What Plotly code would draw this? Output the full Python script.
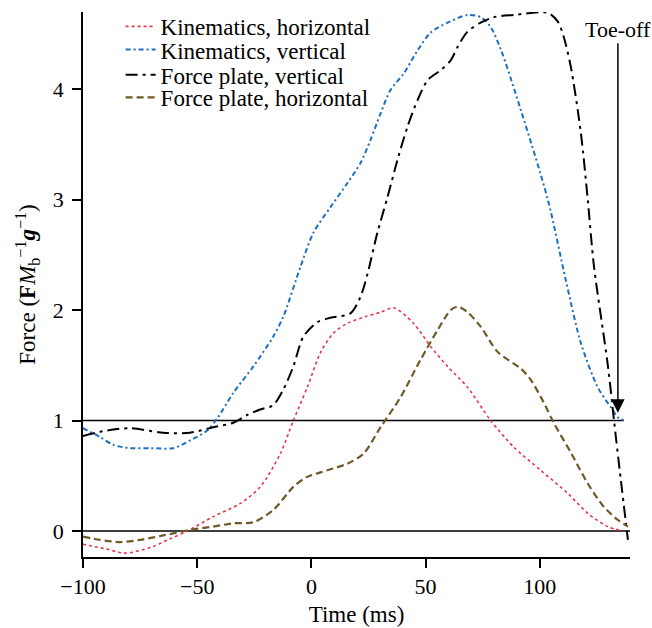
import plotly.graph_objects as go

SERIF = "Liberation Serif"
RED = "#e8364a"
BLUE = "#1f6fc0"
OLIVE = "#6e5a28"
BLACK = "#000000"

# Kinematics, horizontal
kin_h_t = [-100, -90.4, -81.6, -70.6, -61.8, -54.4, -43, -31.1, -22.4, -13.6, -7.9, -1.8,
           3.9, 9.6, 15.8, 23.7, 30.3, 36, 44.7, 52.2, 59.6, 68.4, 78.5, 88.6, 100.4,
           112.3, 121, 129.8, 136.4]
kin_h_f = [-0.12, -0.16, -0.20, -0.15, -0.07, 0.0, 0.13, 0.25, 0.40, 0.70, 1.0, 1.30,
           1.61, 1.79, 1.88, 1.94, 1.98, 2.02, 1.88, 1.67, 1.49, 1.30, 1.0, 0.76, 0.55,
           0.34, 0.16, 0.04, 0.0]

# Kinematics, vertical
kin_v_t = [-100, -92.5, -86.8, -79.4, -70.6, -60.5, -53.1, -45.6, -41.2, -34.2, -25.4,
           -16.7, -12.3, -4.8, 0.9, 8.3, 15.8, 21.5, 25.9, 30.3, 34.6, 40.4, 46.5, 52.2,
           59.6, 68.4, 74.1, 78.5, 82.9, 91.7, 103.5, 111.4, 118, 125.4, 131.1, 134.2, 136.8]
kin_v_f = [0.93, 0.85, 0.78, 0.75, 0.75, 0.75, 0.82, 0.91, 1.02, 1.25, 1.49,
           1.76, 1.94, 2.39, 2.70, 2.93, 3.15, 3.33, 3.54, 3.78, 3.99, 4.14, 4.35, 4.51,
           4.60, 4.67, 4.65, 4.56, 4.36, 3.81, 3.0, 2.27, 1.70, 1.30, 1.12, 1.03, 1.0]

# Force plate, vertical
fp_v_t = [-100, -89.5, -79.4, -64.9, -53.1, -43, -34.2, -28.1, -22.4, -16.7, -12.3, -7.9,
          -3.5, 2.6, 8.3, 17.1, 21.5, 24.6, 28.9, 33.3, 37.7, 42.1, 46.5, 50.9, 56.6, 61,
          64, 68.4, 74.1, 79.8, 88.6, 103.5, 107.9, 110.5, 113.6, 118, 121, 123.7, 129.8,
          132.5, 135.5, 138.6]
fp_v_f = [0.86, 0.91, 0.93, 0.89, 0.89, 0.94, 0.98, 1.05, 1.10, 1.14, 1.28, 1.49,
          1.76, 1.89, 1.93, 1.97, 2.12, 2.33, 2.70, 3.02, 3.36, 3.66, 3.90, 4.08, 4.17, 4.26,
          4.38, 4.52, 4.60, 4.65, 4.67, 4.69, 4.61, 4.47, 4.2, 3.6, 3.0, 2.4, 1.5,
          1.0, 0.46, -0.08]

# Force plate, horizontal
fp_h_t = [-100, -92.5, -83.8, -75, -64.9, -53.1, -43, -34.2, -25.4, -16.7, -7.9, -1.8,
          7, 15.8, 22.8, 30.3, 39, 47.8, 55.3, 61, 64, 68.4, 74.1, 81.6, 91.7, 96, 101.8,
          106.1, 113.6, 121, 128, 134.2, 138.6]
fp_h_f = [-0.05, -0.08, -0.10, -0.08, -0.04, 0.01, 0.04, 0.07, 0.08, 0.19, 0.40, 0.49,
          0.55, 0.61, 0.70, 0.94, 1.21, 1.55, 1.82, 2.0, 2.03, 1.98, 1.85, 1.62, 1.47, 1.37, 1.16,
          0.98, 0.71, 0.43, 0.22, 0.10, 0.04]

# body-weight reference line and toe-off
ref_t = [-100, 136.8]
ref_f = [1, 1]
toe_off_t = 134.2
toe_off_f = 1.07
toe_label_f = 4.54

x_ticks = [-100, -50, 0, 50, 100]
y_ticks = [0, 1, 2, 3, 4]

Y_TITLE = "Force (<b>F</b><i>M</i><sub>b</sub><sup>−1</sup><b><i>g</i></b><sup>−1</sup>)"

# one legend per series so the rows can sit as tightly as in the original
series = [
    ("Kinematics, horizontal", kin_h_t, kin_h_f, dict(color=RED, width=1.6, dash="dot"), "legend", 0.958),
    ("Kinematics, vertical", kin_v_t, kin_v_f, dict(color=BLUE, width=2, dash="5px,3px,2px,3px"), "legend2", 0.921),
    ("Force plate, vertical", fp_v_t, fp_v_f, dict(color=BLACK, width=2, dash="12px,5px,3px,5px"), "legend3", 0.881),
    ("Force plate, horizontal", fp_h_t, fp_h_f, dict(color=OLIVE, width=2.2, dash="7px,4px"), "legend4", 0.845),
]

fig = go.Figure()

fig.add_trace(go.Scatter(x=ref_t, y=ref_f, mode="lines", showlegend=False,
                         line=dict(color=BLACK, width=1.5), hoverinfo="skip"))
fig.add_hline(y=0, line=dict(color=BLACK, width=1.5), layer="below")

legends = {}
for name, t, f, line, leg, ly in series:
    fig.add_trace(go.Scatter(x=t, y=f, mode="lines", name=name,
                             line=dict(shape="spline", smoothing=0.8, **line), legend=leg))
    legends[leg] = dict(x=0.185, y=ly, xref="container", yref="container",
                        xanchor="left", yanchor="middle", bgcolor="rgba(0,0,0,0)",
                        font=dict(family=SERIF, size=23, color=BLACK))

fig.add_annotation(x=toe_off_t, y=toe_off_f, ax=toe_off_t, ay=toe_label_f, axref="x", ayref="y",
                   text="Toe-off", showarrow=True, arrowhead=2, arrowsize=1.8, arrowwidth=1.5,
                   arrowcolor=BLACK, font=dict(family=SERIF, size=22, color=BLACK))

# y title as an annotation: the axis title misplaces itself once margins are frozen
fig.add_annotation(x=-0.102, y=0.5, xref="paper", yref="paper", text=Y_TITLE, textangle=-90,
                   showarrow=False, xanchor="center", yanchor="middle",
                   font=dict(family=SERIF, size=23, color=BLACK))

fig.update_layout(
    width=652,
    height=628,
    margin=dict(l=83, r=22, t=12, b=71, autoexpand=False),
    paper_bgcolor="white",
    plot_bgcolor="white",
    font=dict(family=SERIF, size=22, color=BLACK),
    xaxis=dict(
        range=[-100, 139.5], tickvals=x_ticks, showgrid=False, zeroline=False, automargin=False,
        showline=True, linecolor=BLACK, linewidth=1.5, ticks="outside", ticklen=9,
        tickwidth=1.5, tickcolor=BLACK, title=dict(text="Time (ms)", font=dict(size=23), standoff=8),
    ),
    yaxis=dict(
        range=[-0.235, 4.697], tickvals=y_ticks, showgrid=False, zeroline=False, automargin=False,
        showline=True, linecolor=BLACK, linewidth=1.5, ticks="outside", ticklen=9,
        tickwidth=1.5, tickcolor=BLACK, ticklabelstandoff=4,
    ),
    **legends,
)

# drop the page's default body margin so the figure sits at the window corner
fig.write_html("out.html", config=dict(displayModeBar=False),
               post_script="document.body.style.margin='0';")
